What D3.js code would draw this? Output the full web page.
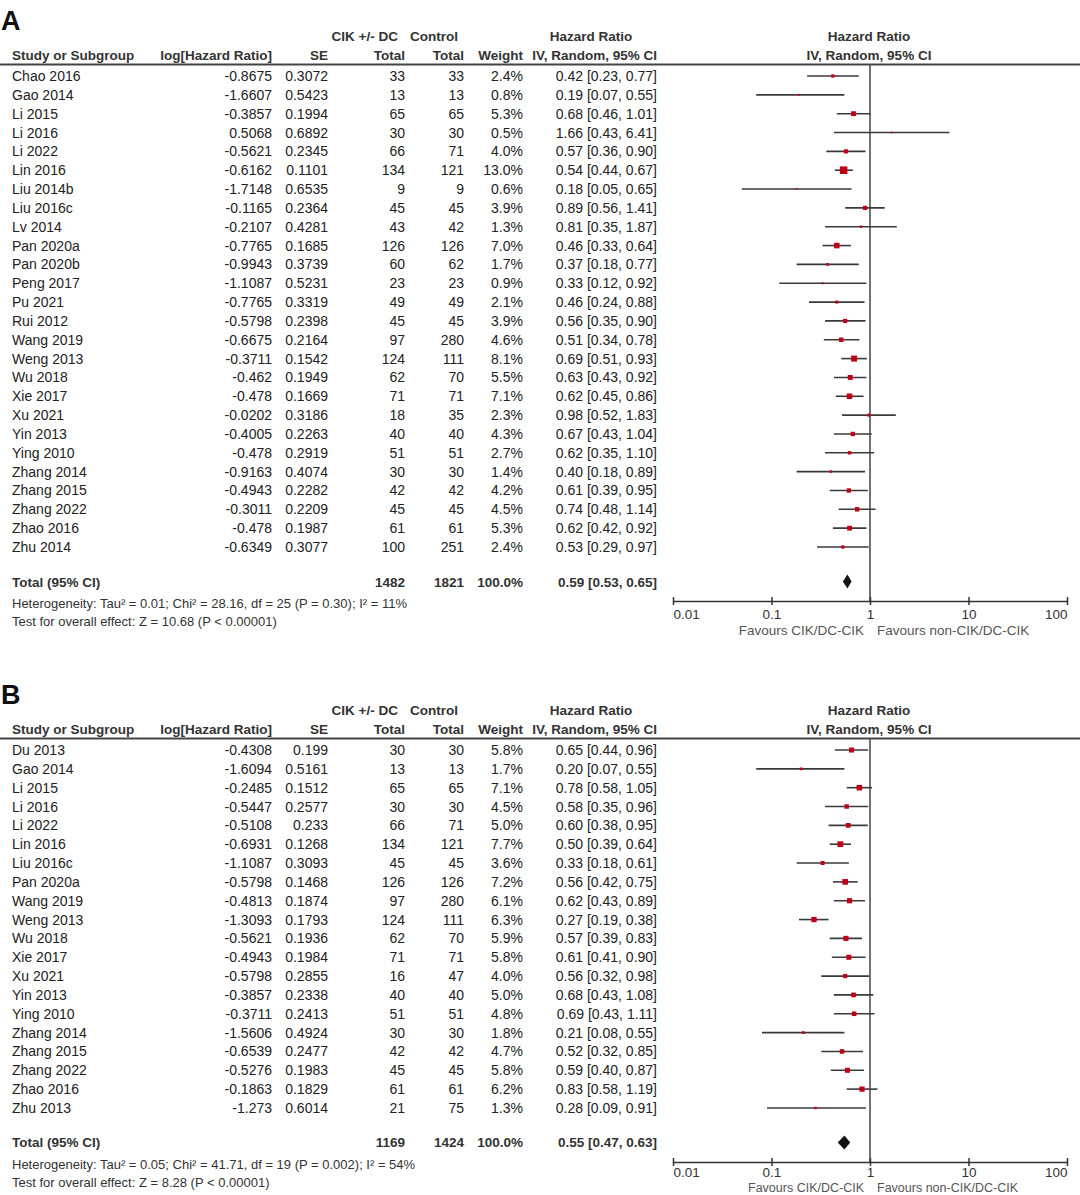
<!DOCTYPE html>
<html>
<head>
<meta charset="utf-8">
<script src="https://cdn.jsdelivr.net/npm/d3@7"></script>
<style>
body { margin: 0; background: #fff; }
svg text { font-family: "Liberation Sans", Arial, sans-serif; fill: #222; }
</style>
</head>
<body>
<div id="draw"></div>
<script>
// panel A data
var studiesA = ['Chao 2016', 'Gao 2014', 'Li 2015', 'Li 2016', 'Li 2022', 'Lin 2016', 'Liu 2014b', 'Liu 2016c',
  'Lv 2014', 'Pan 2020a', 'Pan 2020b', 'Peng 2017', 'Pu 2021', 'Rui 2012', 'Wang 2019', 'Weng 2013', 'Wu 2018',
  'Xie 2017', 'Xu 2021', 'Yin 2013', 'Ying 2010', 'Zhang 2014', 'Zhang 2015', 'Zhang 2022', 'Zhao 2016', 'Zhu 2014'];
var logHRA = [-0.8675, -1.6607, -0.3857, 0.5068, -0.5621, -0.6162, -1.7148, -0.1165, -0.2107, -0.7765, -0.9943,
  -1.1087, -0.7765, -0.5798, -0.6675, -0.3711, -0.462, -0.478, -0.0202, -0.4005, -0.478, -0.9163, -0.4943,
  -0.3011, -0.478, -0.6349];
var seA = ['0.3072', '0.5423', '0.1994', '0.6892', '0.2345', '0.1101', '0.6535', '0.2364', '0.4281', '0.1685',
  '0.3739', '0.5231', '0.3319', '0.2398', '0.2164', '0.1542', '0.1949', '0.1669', '0.3186', '0.2263', '0.2919',
  '0.4074', '0.2282', '0.2209', '0.1987', '0.3077'];
var expTotalA = [33, 13, 65, 30, 66, 134, 9, 45, 43, 126, 60, 23, 49, 45, 97, 124, 62, 71, 18, 40, 51, 30, 42, 45, 61, 100];
var ctrlTotalA = [33, 13, 65, 30, 71, 121, 9, 45, 42, 126, 62, 23, 49, 45, 280, 111, 70, 71, 35, 40, 51, 30, 42, 45, 61, 251];
var weightA = [2.4, 0.8, 5.3, 0.5, 4.0, 13.0, 0.6, 3.9, 1.3, 7.0, 1.7, 0.9, 2.1, 3.9, 4.6, 8.1, 5.5, 7.1, 2.3, 4.3,
  2.7, 1.4, 4.2, 4.5, 5.3, 2.4];
var hrA = [0.42, 0.19, 0.68, 1.66, 0.57, 0.54, 0.18, 0.89, 0.81, 0.46, 0.37, 0.33, 0.46, 0.56, 0.51, 0.69, 0.63,
  0.62, 0.98, 0.67, 0.62, 0.40, 0.61, 0.74, 0.62, 0.53];
var loA = [0.23, 0.07, 0.46, 0.43, 0.36, 0.44, 0.05, 0.56, 0.35, 0.33, 0.18, 0.12, 0.24, 0.35, 0.34, 0.51, 0.43,
  0.45, 0.52, 0.43, 0.35, 0.18, 0.39, 0.48, 0.42, 0.29];
var hiA = [0.77, 0.55, 1.01, 6.41, 0.90, 0.67, 0.65, 1.41, 1.87, 0.64, 0.77, 0.92, 0.88, 0.90, 0.78, 0.93, 0.92,
  0.86, 1.83, 1.04, 1.10, 0.89, 0.95, 1.14, 0.92, 0.97];
var totalA = [1482, 1821, 0.59, 0.53, 0.65];
var hetA = ['Heterogeneity: Tau\u00b2 = 0.01; Chi\u00b2 = 28.16, df = 25 (P = 0.30); I\u00b2 = 11%',
  'Test for overall effect: Z = 10.68 (P < 0.00001)'];

// panel B data
var studiesB = ['Du 2013', 'Gao 2014', 'Li 2015', 'Li 2016', 'Li 2022', 'Lin 2016', 'Liu 2016c', 'Pan 2020a',
  'Wang 2019', 'Weng 2013', 'Wu 2018', 'Xie 2017', 'Xu 2021', 'Yin 2013', 'Ying 2010', 'Zhang 2014', 'Zhang 2015',
  'Zhang 2022', 'Zhao 2016', 'Zhu 2013'];
var logHRB = [-0.4308, -1.6094, -0.2485, -0.5447, -0.5108, -0.6931, -1.1087, -0.5798, -0.4813, -1.3093, -0.5621,
  -0.4943, -0.5798, -0.3857, -0.3711, -1.5606, -0.6539, -0.5276, -0.1863, -1.273];
var seB = ['0.199', '0.5161', '0.1512', '0.2577', '0.233', '0.1268', '0.3093', '0.1468', '0.1874', '0.1793',
  '0.1936', '0.1984', '0.2855', '0.2338', '0.2413', '0.4924', '0.2477', '0.1983', '0.1829', '0.6014'];
var expTotalB = [30, 13, 65, 30, 66, 134, 45, 126, 97, 124, 62, 71, 16, 40, 51, 30, 42, 45, 61, 21];
var ctrlTotalB = [30, 13, 65, 30, 71, 121, 45, 126, 280, 111, 70, 71, 47, 40, 51, 30, 42, 45, 61, 75];
var weightB = [5.8, 1.7, 7.1, 4.5, 5.0, 7.7, 3.6, 7.2, 6.1, 6.3, 5.9, 5.8, 4.0, 5.0, 4.8, 1.8, 4.7, 5.8, 6.2, 1.3];
var hrB = [0.65, 0.20, 0.78, 0.58, 0.60, 0.50, 0.33, 0.56, 0.62, 0.27, 0.57, 0.61, 0.56, 0.68, 0.69, 0.21, 0.52,
  0.59, 0.83, 0.28];
var loB = [0.44, 0.07, 0.58, 0.35, 0.38, 0.39, 0.18, 0.42, 0.43, 0.19, 0.39, 0.41, 0.32, 0.43, 0.43, 0.08, 0.32,
  0.40, 0.58, 0.09];
var hiB = [0.96, 0.55, 1.05, 0.96, 0.95, 0.64, 0.61, 0.75, 0.89, 0.38, 0.83, 0.90, 0.98, 1.08, 1.11, 0.55, 0.85,
  0.87, 1.19, 0.91];
var totalB = [1169, 1424, 0.55, 0.47, 0.63];
var hetB = ['Heterogeneity: Tau\u00b2 = 0.05; Chi\u00b2 = 41.71, df = 19 (P = 0.002); I\u00b2 = 54%',
  'Test for overall effect: Z = 8.28 (P < 0.00001)'];

var tickVals = [0.01, 0.1, 1, 10, 100];
var tickLabels = ['0.01', '0.1', '1', '10', '100'];

var H = 1195;
var svg = d3.select('#draw').append('svg')
    .attr('width', 1080).attr('height', H);

var x = d3.scaleLog().domain([0.01, 100]).range([673, 1067]);

// right edges of the table columns
var colLog = 272, colSE = 328, colExp = 405, colCtrl = 464, colW = 523, colCI = 657;

function ci(h, l, u) {
  return h.toFixed(2) + ' [' + l.toFixed(2) + ', ' + u.toFixed(2) + ']';
}

function panel(top, letter, studies, logHR, se, expN, ctrlN, weight, hr, lo, hi, total, het) {
  var g = svg.append('g').attr('transform', 'translate(0,' + top + ')');
  var step = 18.84;
  var y = d3.scalePoint().domain(d3.range(studies.length))
      .range([76, 76 + step * (studies.length - 1)]);
  var yTot = y(studies.length - 1) + 34.5;
  var yAxis = yTot + 19.5;
  // the lower panel runs into the bottom edge, so squeeze its axis labels a little
  var tight = top + yAxis + 38 > H;

  g.append('text').attr('x', 1).attr('y', 30).text(letter)
      .style('font-size', '27px').style('font-weight', 'bold').style('fill', '#111');

  // headers
  var hb = function(t, xx, yy, anchor) {
    g.append('text').attr('x', xx).attr('y', yy).attr('text-anchor', anchor).text(t)
        .style('font-size', '13.5px').style('font-weight', 'bold').style('fill', '#333');
  };
  hb('CIK +/- DC', 398, 41, 'end');
  hb('Control', 458, 41, 'end');
  hb('Hazard Ratio', 591, 41, 'middle');
  hb('Hazard Ratio', 869, 41, 'middle');
  hb('Study or Subgroup', 12, 60, 'start');
  hb('log[Hazard Ratio]', colLog, 60, 'end');
  hb('SE', colSE, 60, 'end');
  hb('Total', colExp, 60, 'end');
  hb('Total', colCtrl, 60, 'end');
  hb('Weight', colW, 60, 'end');
  hb('IV, Random, 95% CI', colCI, 60, 'end');
  hb('IV, Random, 95% CI', 869, 60, 'middle');

  g.append('line').attr('x1', 0).attr('x2', 1080).attr('y1', 64.5).attr('y2', 64.5)
      .style('stroke', '#444').style('stroke-width', 2);

  // table rows
  var rows = g.selectAll('g.row').data(d3.range(studies.length)).enter()
      .append('g').attr('class', 'row')
      .attr('transform', function(i) { return 'translate(0,' + (y(i) + 5) + ')'; })
      .style('font-size', '14px');
  var cell = function(xx, anchor, f) {
    rows.append('text').attr('x', xx).attr('text-anchor', anchor).text(f);
  };
  cell(12, 'start', function(i) { return studies[i]; });
  cell(colLog, 'end', function(i) { return String(logHR[i]); });
  cell(colSE, 'end', function(i) { return se[i]; });
  cell(colExp, 'end', function(i) { return expN[i]; });
  cell(colCtrl, 'end', function(i) { return ctrlN[i]; });
  cell(colW, 'end', function(i) { return weight[i].toFixed(1) + '%'; });
  cell(colCI, 'end', function(i) { return ci(hr[i], lo[i], hi[i]); });

  // total row
  var tb = function(t, xx, anchor) {
    g.append('text').attr('x', xx).attr('y', yTot + 5).attr('text-anchor', anchor).text(t)
        .style('font-size', '13.5px').style('font-weight', 'bold').style('fill', '#333');
  };
  tb('Total (95% CI)', 12, 'start');
  tb(total[0], colExp, 'end');
  tb(total[1], colCtrl, 'end');
  tb('100.0%', colW, 'end');
  tb(ci(total[2], total[3], total[4]), colCI, 'end');

  het.forEach(function(t, k) {
    g.append('text').attr('x', 12).attr('y', yTot + 26.5 + k * 18).text(t)
        .style('font-size', '13px').style('fill', '#333');
  });

  // null line
  g.append('line').attr('x1', x(1)).attr('x2', x(1)).attr('y1', 65).attr('y2', yAxis)
      .style('stroke', '#444').style('stroke-width', 1.5);

  // CIs and squares
  g.selectAll('line.ci').data(d3.range(studies.length)).enter()
      .append('line').attr('class', 'ci')
      .attr('x1', function(i) { return x(lo[i]); })
      .attr('x2', function(i) { return x(hi[i]); })
      .attr('y1', function(i) { return y(i); })
      .attr('y2', function(i) { return y(i); })
      .style('stroke', '#3a3a3a').style('stroke-width', 1.6);
  var sz = function(i) { return Math.max(1.6, Math.sqrt(weight[i]) * 2.1); };
  g.selectAll('rect.box').data(d3.range(studies.length)).enter()
      .append('rect').attr('class', 'box')
      .attr('x', function(i) { return x(hr[i]) - sz(i) / 2; })
      .attr('y', function(i) { return y(i) - sz(i) / 2; })
      .attr('width', sz).attr('height', sz)
      .style('fill', '#c00018');

  // pooled diamond
  g.append('path')
      .attr('d', 'M' + x(total[3]) + ',' + yTot + 'L' + x(total[2]) + ',' + (yTot - 7) +
        'L' + x(total[4]) + ',' + yTot + 'L' + x(total[2]) + ',' + (yTot + 7) + 'Z')
      .style('fill', '#111');

  // axis
  var ax = g.append('g').attr('transform', 'translate(0,' + yAxis + ')')
      .call(d3.axisBottom(x).tickValues(tickVals).tickSize(4).tickSizeOuter(0)
        .tickFormat(function(d, i) { return tickLabels[i]; }));
  ax.select('.domain').style('stroke', '#333').style('stroke-width', 1.5);
  ax.selectAll('.tick line').attr('y1', -4).attr('y2', 4).style('stroke', '#333').style('stroke-width', 1.5);
  ax.selectAll('.tick text').attr('y', tight ? 5 : 8).style('font-size', '13.5px').style('fill', '#333')
      .style('font-family', '"Liberation Sans", Arial, sans-serif')
      .attr('text-anchor', function(d, i) { return i === 0 ? 'start' : (i === tickVals.length - 1 ? 'end' : 'middle'); });

  var yFav = tight ? H - top - 3.5 : yAxis + 34;
  var favSize = tight ? '12.5px' : '13.5px';
  g.append('text').attr('x', 864).attr('y', yFav).attr('text-anchor', 'end')
      .text('Favours CIK/DC-CIK').style('font-size', favSize).style('fill', '#555');
  g.append('text').attr('x', 877).attr('y', yFav).attr('text-anchor', 'start')
      .text('Favours non-CIK/DC-CIK').style('font-size', favSize).style('fill', '#555');
}

panel(0, 'A', studiesA, logHRA, seA, expTotalA, ctrlTotalA, weightA, hrA, loA, hiA, totalA, hetA);
panel(674, 'B', studiesB, logHRB, seB, expTotalB, ctrlTotalB, weightB, hrB, loB, hiB, totalB, hetB);
</script>
</body>
</html>
